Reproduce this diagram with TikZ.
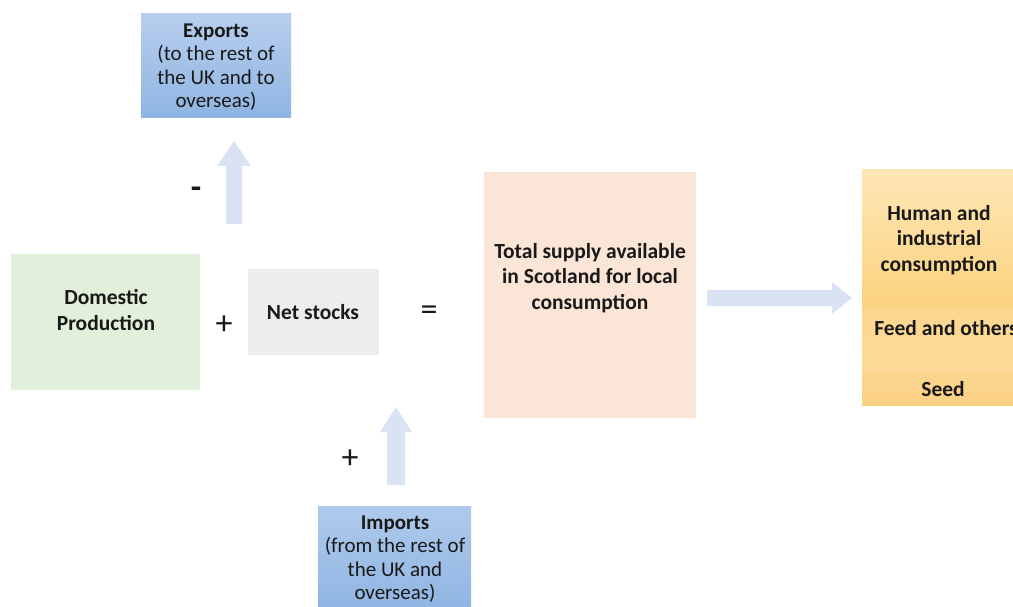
\documentclass[tikz,border=0pt]{standalone}
\usepackage{fontspec}
\setmainfont{Carlito}
\usetikzlibrary{arrows.meta,shapes.arrows}
\definecolor{expTop}{HTML}{B7CFEE}
\definecolor{expBot}{HTML}{8FB4E2}
\definecolor{arrowblue}{HTML}{DAE3F3}
\definecolor{greenbox}{HTML}{E2EFDA}
\definecolor{greybox}{HTML}{EDEDED}
\definecolor{peachbox}{HTML}{FBE5D6}
\definecolor{orTop}{HTML}{FEE7B6}
\definecolor{orBot}{HTML}{FBD27E}
\definecolor{orMid}{HTML}{FCD68E}
\definecolor{orLow}{HTML}{FBD185}
\tikzset{
  txt/.style={font=\fontsize{21.5}{25.5}\selectfont\bfseries, align=center, text=black!90},
  smalltxt/.style={font=\fontsize{21}{23.5}\selectfont, align=center, text=black!90},
  sym/.style={font=\fontsize{34}{34}\selectfont, text=black!90},
  blockarrow/.style={fill=arrowblue, draw=none},
}
\begin{document}
\begin{tikzpicture}[x=1pt,y=-1pt]
\useasboundingbox (0,0) rectangle (1013,607);
\clip (0,0) rectangle (1013,607);
% Exports
\shade[top color=expTop, bottom color=expBot] (141,14) rectangle (291,118);
\node[smalltxt] (exp) at (216,67) {\textbf{Exports}\\(to the rest of\\the UK and to\\overseas)};
\fill[blockarrow] (226,224) -- (226,166) -- (217,166) -- (234,141) -- (251,166) -- (242,166) -- (242,224) -- cycle;
\node[sym] (minus) at (196,193) {\textbf{-}};
% Domestic production
\fill[greenbox] (11,254) rectangle (200,390);
\node[txt] (dom) at (106,310) {Domestic\\Production};
\node[sym] (plus1) at (224,325) {+};
% Net stocks
\fill[greybox] (248,269) rectangle (379,355);
\node[txt] (net) at (313,312) {Net stocks};
\node[sym] (eq) at (429,313) {=};
% Total supply
\fill[peachbox] (484,172) rectangle (696,418);
\node[txt] (tot) at (590,278) {Total supply available\\in Scotland for local\\consumption};
% right arrow
\fill[blockarrow] (707,290) -- (832,290) -- (832,282) -- (852,298) -- (832,314) -- (832,306) -- (707,306) -- cycle;
% orange stack
\shade[top color=orTop, bottom color=orBot] (862,170) rectangle (1020,307);
\shade[top color=orMid, bottom color=orMid!70!orTop] (862,307) rectangle (1020,370);
\shade[top color=orLow!80!orTop, bottom color=orLow] (862,370) rectangle (1020,405);
\node[txt] (hum) at (939,240) {Human and\\industrial\\consumption};
\node[txt] (feed) at (946,328) {Feed and others};
\node[txt] (seed) at (943,389) {Seed};
% Imports
\fill[blockarrow] (387,485) -- (387,432) -- (380,432) -- (396,407) -- (412,432) -- (405,432) -- (405,485) -- cycle;
\node[sym] (plus2) at (350,459) {+};
\shade[top color=expTop!80!expBot, bottom color=expBot] (318,506) rectangle (471,612);
\node[smalltxt] (imp) at (395,559) {\textbf{Imports}\\(from the rest of\\the UK and\\overseas)};
\end{tikzpicture}
\end{document}
